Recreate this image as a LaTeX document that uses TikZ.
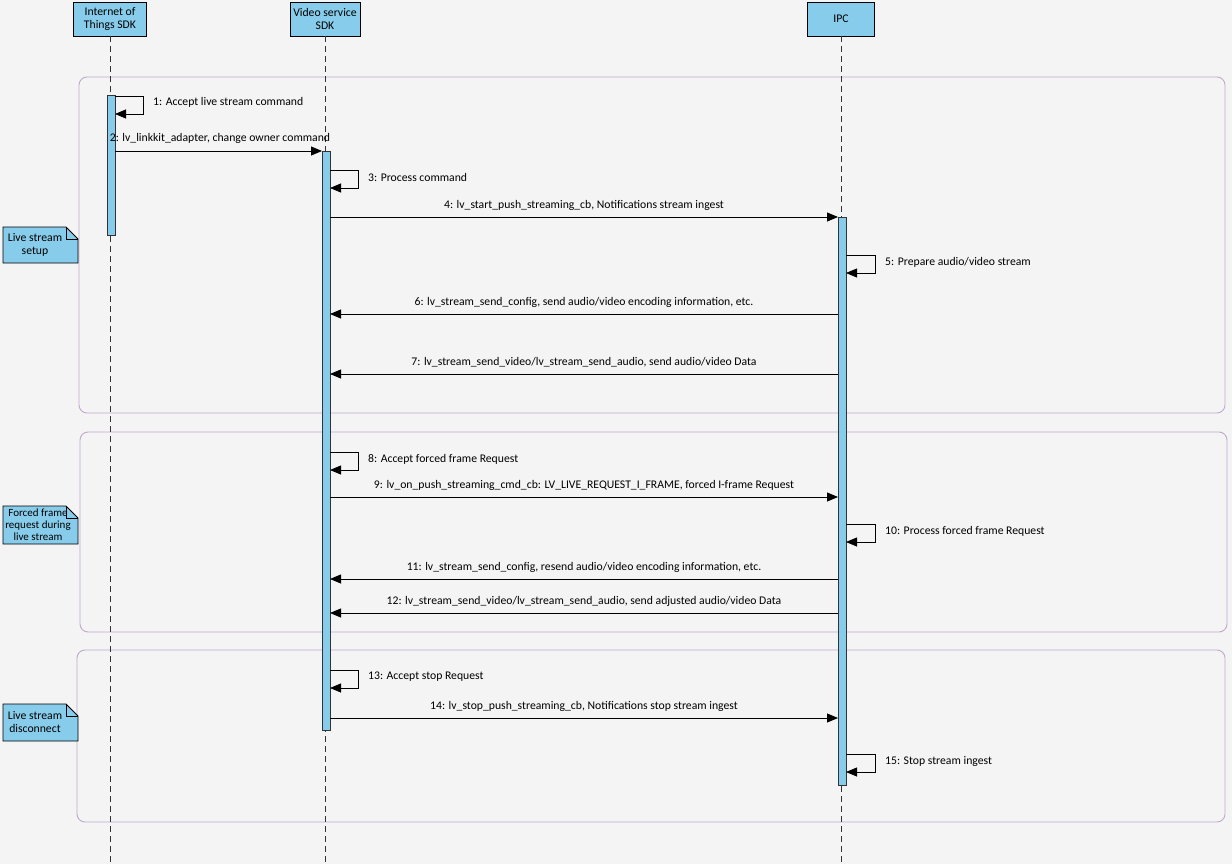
\documentclass[tikz,border=0pt]{standalone}
\usepackage{fontspec}
\setmainfont{Carlito}
\usetikzlibrary{arrows.meta}
\definecolor{bgc}{HTML}{F4F4F4}
\definecolor{boxblue}{HTML}{87CCEA}
\definecolor{framec}{HTML}{BFA8CC}
\definecolor{lifec}{HTML}{333333}
\tikzset{
  x=1pt, y=-1pt,
  every node/.style={font=\fontsize{11.7}{13}\selectfont, inner sep=0pt},
  head/.style={draw=black, line width=0.9pt, fill=boxblue, minimum width=70pt, minimum height=34pt, align=center},
  bar/.style={draw=lifec, line width=0.6pt, fill=boxblue},
  life/.style={draw=lifec, line width=0.8pt, dash pattern=on 6pt off 4pt},
  frm/.style={draw=framec, line width=0.9pt, rounded corners=8pt},
  msg/.style={draw=black, line width=0.8pt, -{Triangle[length=11pt,width=9pt]}},
  selfm/.style={draw=black, line width=0.8pt, -{Triangle[length=11pt,width=9pt]}},
  notetxt/.style={align=center, font=\fontsize{11.7}{13}\selectfont}
}
\begin{document}
\begin{tikzpicture}
\useasboundingbox (0,0) rectangle (1232,864);
\fill[bgc] (0,0) rectangle (1232,864);
% frames
\draw[frm] (79,77) rectangle (1225,413);
\draw[frm] (80,432) rectangle (1227,632);
\draw[frm] (77,650) rectangle (1225,822);
% heads
\node[head, minimum width=73pt] (iot) at (110,19) {Internet of\\Things SDK};
\node[head, minimum width=70pt] (vs) at (325,19) {Video service\\SDK};
\node[head, minimum width=67pt] (ipc) at (841,19) {IPC};
% lifelines
\coordinate (iotend) at (110,864);
\coordinate (vsend) at (325,864);
\coordinate (ipcend) at (841,864);
\draw[life] (iot.south) -- (iotend);
\draw[life] (vs.south) -- (vsend);
\draw[life] (ipc.south) -- (ipcend);
% activation bars
\draw[bar] (107,95) rectangle (115,235);
\draw[bar] (322,151) rectangle (330,730);
\draw[bar] (838,217) rectangle (846,785);
% notes
\foreach \ya/\yb in {227/263, 506/544, 704/741}{
  \fill[boxblue, draw=black, line width=0.8pt] (3,\ya) -- (66,\ya) -- (78,\ya+12) -- (78,\yb) -- (3,\yb) -- cycle;
  \draw[black, line width=0.6pt] (66,\ya) -- (66,\ya+12) -- (78,\ya+12);
}
\node[notetxt] (n1) at (35,245) {Live stream\\setup};
\node[notetxt, font=\fontsize{11}{12}\selectfont] (n2) at (38,525) {Forced frame\\request during\\live stream};
\node[notetxt] (n3) at (35,722) {Live stream\\disconnect};
% self message 1
\coordinate (iR96) at (115,96);
\coordinate (iS1) at (143,96);
\coordinate (iS1b) at (143,114);
\coordinate (iR114) at (115,114);
\draw[selfm] (iR96) -- (iS1) -- (iS1b) -- (iR114);
\node[anchor=west] (l1) at (153,102) {1: Accept live stream command};
% message 2
\coordinate (iR151) at (115,151);
\coordinate (vL151) at (322,151);
\draw[msg] (iR151) -- (vL151);
\node (l2) at (220,138) {2: lv\_linkkit\_adapter, change owner command};
% self messages on video SDK
\foreach \n/\y/\t in {3/170/{3: Process command}, 8/452/{8: Accept forced frame Request}, 13/670/{13: Accept stop Request}}{
  \coordinate (vsA\n) at (330,\y);
  \coordinate (vsB\n) at (358,\y);
  \coordinate (vsC\n) at (358,\y+18);
  \coordinate (vsD\n) at (330,\y+18);
  \draw[selfm] (vsA\n) -- (vsB\n) -- (vsC\n) -- (vsD\n);
  \node[anchor=west] (l\n) at (368,\y+7) {\t};
}
% self messages on IPC
\foreach \n/\y/\t in {5/255/{5: Prepare audio/video stream}, 10/524/{10: Process forced frame Request}, 15/754/{15: Stop stream ingest}}{
  \coordinate (pA\n) at (846,\y);
  \coordinate (pB\n) at (875,\y);
  \coordinate (pC\n) at (875,\y+18);
  \coordinate (pD\n) at (846,\y+18);
  \draw[selfm] (pA\n) -- (pB\n) -- (pC\n) -- (pD\n);
  \node[anchor=west] (l\n) at (885,\y+7) {\t};
}
% right messages video -> ipc
\foreach \n/\y/\t in {4/217/{4: lv\_start\_push\_streaming\_cb, Notifications stream ingest},
                      9/497/{9: lv\_on\_push\_streaming\_cmd\_cb: LV\_LIVE\_REQUEST\_I\_FRAME, forced I-frame Request},
                      14/718/{14: lv\_stop\_push\_streaming\_cb, Notifications stop stream ingest}}{
  \coordinate (vR\n) at (330,\y);
  \coordinate (pL\n) at (838,\y);
  \draw[msg] (vR\n) -- (pL\n);
  \node (l\n) at (584,\y-12) {\t};
}
% left messages ipc -> video
\foreach \n/\y/\t in {6/314/{6: lv\_stream\_send\_config, send audio/video encoding information, etc.},
                      7/374/{7: lv\_stream\_send\_video/lv\_stream\_send\_audio, send audio/video Data},
                      11/579/{11: lv\_stream\_send\_config, resend audio/video encoding information, etc.},
                      12/613/{12: lv\_stream\_send\_video/lv\_stream\_send\_audio, send adjusted audio/video Data}}{
  \coordinate (pL\n) at (838,\y);
  \coordinate (vR\n) at (330,\y);
  \draw[msg] (pL\n) -- (vR\n);
  \node (l\n) at (584,\y-12) {\t};
}
\end{tikzpicture}
\end{document}
